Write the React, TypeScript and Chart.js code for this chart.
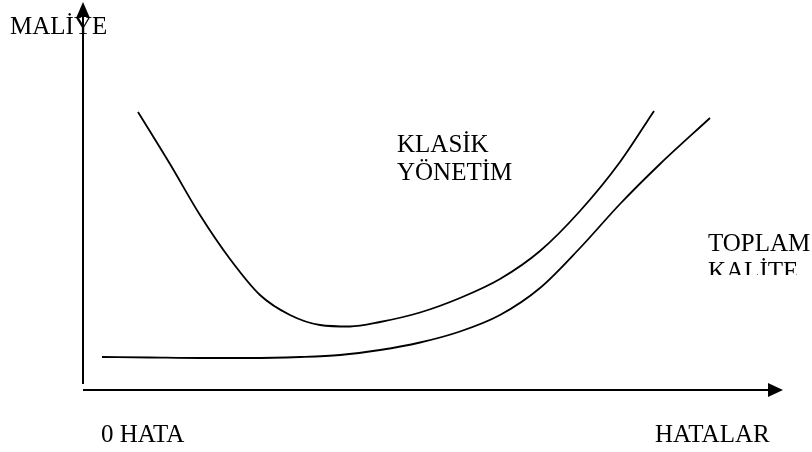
import React, { useEffect, useRef } from "react";
import { Chart, registerables } from "chart.js";

Chart.register(...registerables);

// Hata sayısı (x) ve maliyet (y)
const klasikErrors = [55, 87, 117, 147, 177, 207, 237, 267, 297, 337, 377, 417, 457, 497, 537, 571];
const klasikCost = [278, 226, 175, 131, 95, 75, 65, 63.5, 68, 77.5, 92, 111, 139, 179, 228, 279];

const toplamErrors = [19, 67, 117, 167, 217, 257, 297, 337, 377, 417, 457, 497, 537, 577, 627];
const toplamCost = [33, 32.5, 32, 32, 33, 35, 40, 47.5, 58.5, 75, 102, 142, 186, 226, 272];

const yAxisLabel = "MALİYE";
const xAxisStartLabel = "0 HATA";
const xAxisEndLabel = "HATALAR";
const klasikLabel = ["KLASİK", "YÖNETİM"];
const toplamLabel = ["TOPLAM", "KALİTE"];

const FONT = "25px 'Liberation Serif', 'Times New Roman', serif";

const diagramPlugin = {
  id: "diagram",
  afterDatasetsDraw(chart: any) {
    const ctx = chart.ctx as CanvasRenderingContext2D;
    const xs = chart.scales.x;
    const ys = chart.scales.y;
    const px = (v: number) => xs.getPixelForValue(v);
    const py = (v: number) => ys.getPixelForValue(v);

    ctx.save();
    ctx.fillStyle = "#000";
    ctx.font = FONT;
    ctx.textBaseline = "alphabetic";
    ctx.textAlign = "left";

    // labels
    ctx.fillText(yAxisLabel, 10, 34);
    ctx.fillText(klasikLabel[0], 397, 152);
    ctx.fillText(klasikLabel[1], 397, 180);
    ctx.fillText(toplamLabel[0], 708, 251);
    ctx.save();
    ctx.beginPath();
    ctx.rect(0, 0, chart.width, 275);
    ctx.clip();
    ctx.fillText(toplamLabel[1], 708, 279);
    ctx.restore();
    ctx.fillText(xAxisStartLabel, 101, 442);
    ctx.fillText(xAxisEndLabel, 655, 442);

    // axes
    ctx.strokeStyle = "#000";
    ctx.lineWidth = 2;
    const ox = px(0);
    const oy = py(0);
    // y axis
    ctx.beginPath();
    ctx.moveTo(ox, py(6));
    ctx.lineTo(ox, py(375));
    ctx.stroke();
    ctx.beginPath();
    ctx.moveTo(ox, py(388));
    ctx.lineTo(ox - 6.5, py(373));
    ctx.lineTo(ox + 6.5, py(373));
    ctx.closePath();
    ctx.fill();
    // x axis
    ctx.beginPath();
    ctx.moveTo(ox, oy);
    ctx.lineTo(px(687), oy);
    ctx.stroke();
    ctx.beginPath();
    ctx.moveTo(px(700), oy);
    ctx.lineTo(px(685), oy - 7);
    ctx.lineTo(px(685), oy + 7);
    ctx.closePath();
    ctx.fill();
    ctx.restore();
  },
};

export default function App() {
  const ref = useRef<HTMLCanvasElement>(null);

  useEffect(() => {
    if (!ref.current) return;
    const chart = new Chart(ref.current, {
      type: "line",
      data: {
        datasets: [
          {
            label: "Klasik Yönetim",
            data: klasikErrors.map((x, i) => ({ x, y: klasikCost[i] })),
            borderColor: "#000",
            borderWidth: 1.8,
            pointRadius: 0,
            cubicInterpolationMode: "monotone",
            fill: false,
            clip: false as any,
          },
          {
            label: "Toplam Kalite",
            data: toplamErrors.map((x, i) => ({ x, y: toplamCost[i] })),
            borderColor: "#000",
            borderWidth: 1.8,
            pointRadius: 0,
            cubicInterpolationMode: "monotone",
            fill: false,
            clip: false as any,
          },
        ],
      },
      options: {
        animation: false,
        responsive: false,
        devicePixelRatio: 1,
        layout: { padding: 0 },
        plugins: {
          legend: { display: false },
          tooltip: { enabled: false },
          title: { display: false },
        },
        scales: {
          x: { type: "linear", min: -83, max: 729, display: false },
          y: { type: "linear", min: -62, max: 390, display: false },
        },
      },
      plugins: [diagramPlugin],
    });
    return () => chart.destroy();
  }, []);

  return (
    <div style={{ position: "fixed", left: 0, top: 0, width: 812, height: 452, background: "#fff" }}>
      <canvas ref={ref} width={812} height={452} style={{ display: "block" }} />
    </div>
  );
}
